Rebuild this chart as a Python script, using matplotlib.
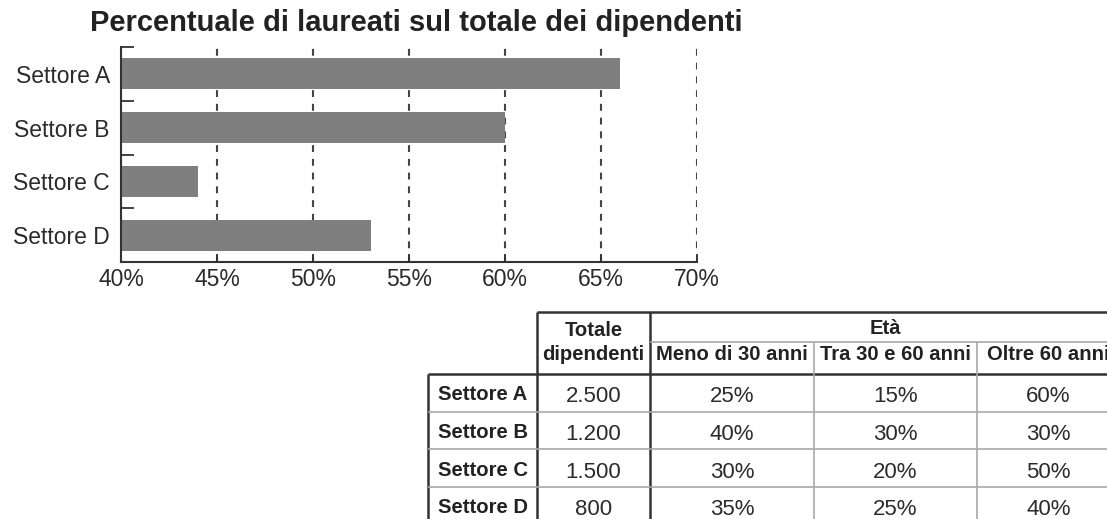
import matplotlib
matplotlib.use("Agg")
import matplotlib.pyplot as plt

plt.rcParams['font.family'] = ['Liberation Sans', 'DejaVu Sans']

# bar chart data
sectors = ["Settore A", "Settore B", "Settore C", "Settore D"]
graduates_pct = [66, 60, 44, 53]
x_ticks = [40, 45, 50, 55, 60, 65, 70]

# table data
total_employees = ["2.500", "1.200", "1.500", "800"]
age_groups = ["Meno di 30 anni", "Tra 30 e 60 anni", "Oltre 60 anni"]
under_30 = ["25%", "40%", "30%", "35%"]
between_30_60 = ["15%", "30%", "20%", "25%"]
over_60 = ["60%", "30%", "50%", "40%"]

W, H = 1107, 519
fig = plt.figure(figsize=(W / 100, H / 100), dpi=100)
fig.patch.set_facecolor("white")

text_col = "#2b2b2b"

# ---- bar chart ----
ax = fig.add_axes([121 / W, 1 - 262 / H, 576 / W, 215 / H])
ypos = list(range(len(sectors)))
ax.barh(ypos, graduates_pct, height=0.58, color="#7f7f7f", zorder=2)
ax.set_xlim(40, 70)
ax.set_ylim(3.5, -0.5)
ax.set_xticks(x_ticks, [f"{t}%" for t in x_ticks])
ax.set_yticks(ypos, sectors)
ax.set_yticks([y - 0.5 for y in ypos] + [ypos[-1] + 0.5], minor=True)
ax.tick_params(axis="y", which="major", length=0, pad=8, labelsize=16.5, labelcolor=text_col)
ax.tick_params(axis="y", which="minor", length=9.5, width=1.3, direction="in", color="#333")
ax.tick_params(axis="x", length=6, width=1.3, direction="in", color="#333",
               pad=4, labelsize=16.5, labelcolor=text_col)
ax.xaxis.grid(True, linestyle=(0, (3.3, 3.3)), color="#444", lw=1.5)
ax.set_axisbelow(True)
for s in ["top", "right"]:
    ax.spines[s].set_visible(False)
for s in ["left", "bottom"]:
    ax.spines[s].set_color("#333")
    ax.spines[s].set_linewidth(1.5)

fig.text(416 / W, 1 - 31 / H, "Percentuale di laureati sul totale dei dipendenti",
         ha="center", va="baseline", fontsize=21, fontweight="bold", color="#222")

# ---- table (drawn on a pixel-coordinate overlay) ----
tab = fig.add_axes([0, 0, 1, 1])
tab.set_xlim(0, W)
tab.set_ylim(H, 0)
tab.axis("off")

col_edges = [428, 537, 650, 814, 977, 1120]
row_edges = [374, 411.7, 449.3, 486.8, 524]
head_top, head_mid = 312, 342

dark = dict(color="#333", lw=1.8, solid_capstyle="butt")
light = dict(color="#a8a8a8", lw=1.2, solid_capstyle="butt")

tab.plot([col_edges[0], col_edges[0]], [row_edges[0], H], **dark)
tab.plot([col_edges[1], col_edges[1]], [head_top, H], **dark)
tab.plot([col_edges[2], col_edges[2]], [head_top, H], **dark)
tab.plot([col_edges[1], W + 5], [head_top, head_top], **dark)
tab.plot([col_edges[0], W + 5], [row_edges[0], row_edges[0]], **dark)
tab.plot([col_edges[2], W + 5], [head_mid, head_mid], **light)
for x in col_edges[3:5]:
    tab.plot([x, x], [head_mid, H], **light)
for y in row_edges[1:4]:
    tab.plot([col_edges[0], W + 5], [y, y], **light)

def cx(i):
    return (col_edges[i] + col_edges[i + 1]) / 2

hdr = dict(ha="center", va="center", fontsize=14.6, fontweight="bold", color="#222")
tab.text(cx(1), 331, "Totale", **hdr)
tab.text(cx(1), 355, "dipendenti", **hdr)
tab.text((col_edges[2] + col_edges[5]) / 2, 328, "Età", **hdr)
for i, g in enumerate(age_groups):
    tab.text(cx(i + 2), 355, g, **hdr)

columns = [total_employees, under_30, between_30_60, over_60]
for r, name in enumerate(sectors):
    yc = (row_edges[r] + row_edges[r + 1]) / 2 + 2
    tab.text(cx(0), yc, name, **hdr)
    for c, vals in enumerate(columns):
        tab.text(cx(c + 1), yc + 2, vals[r], ha="center", va="center",
                 fontsize=16, color=text_col)

fig.savefig("out.png", dpi=100)
